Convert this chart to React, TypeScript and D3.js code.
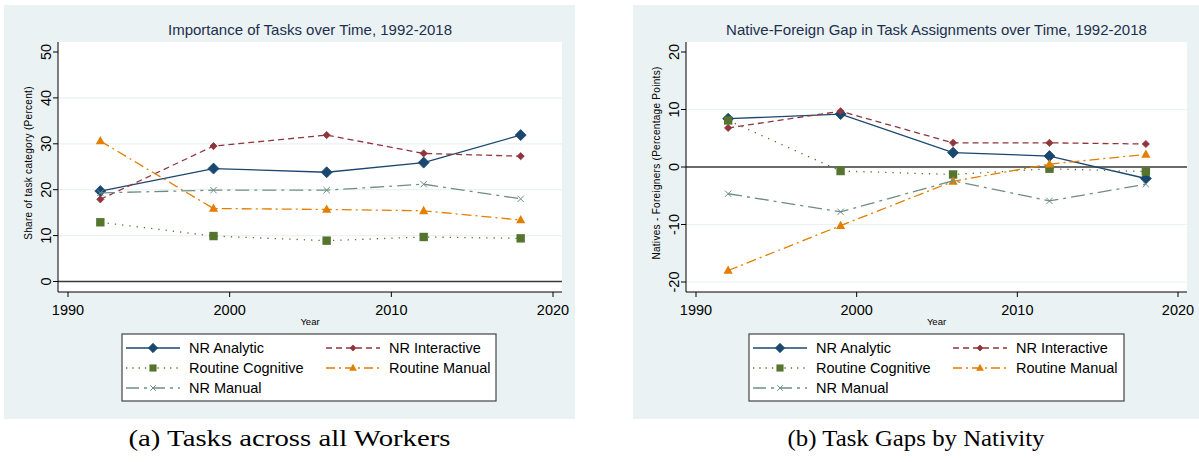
import React from "react";
import * as d3 from "d3";

const years = [1992, 1999, 2006, 2012, 2018];
const seriesNames = ["NR Analytic", "NR Interactive", "Routine Cognitive", "Routine Manual", "NR Manual"];

// Panel (a): share of task category (percent)
const allNRAnalytic = [19.7, 24.6, 23.8, 25.9, 31.9];
const allNRInteractive = [17.9, 29.5, 31.9, 27.9, 27.3];
const allRoutineCognitive = [12.9, 9.9, 8.9, 9.7, 9.4];
const allRoutineManual = [30.6, 15.9, 15.7, 15.4, 13.4];
const allNRManual = [19.3, 19.9, 19.9, 21.2, 18.0];

// Panel (b): natives - foreigners (percentage points)
const gapNRAnalytic = [8.4, 9.2, 2.5, 1.9, -2.0];
const gapNRInteractive = [6.8, 9.7, 4.2, 4.2, 4.0];
const gapRoutineCognitive = [8.1, -0.7, -1.3, -0.3, -0.8];
const gapRoutineManual = [-18.0, -10.2, -2.5, 0.5, 2.2];
const gapNRManual = [-4.65, -7.8, -2.4, -5.9, -3.0];

const xTicks = [1990, 2000, 2010, 2020];
const yTicksA = [0, 10, 20, 30, 40, 50];
const yTicksB = [-20, -10, 0, 10, 20];

type Style = { color: string; dash: string; marker: string; size: number; legendDash: string };
const styles: Style[] = [
  { color: "#1a476f", dash: "none", marker: "diamond", size: 5.5, legendDash: "none" },
  { color: "#90353b", dash: "6,4", marker: "diamond", size: 3.6, legendDash: "6,4" },
  { color: "#55752f", dash: "1.3,6", marker: "square", size: 4.2, legendDash: "1.3,5" },
  { color: "#e37e00", dash: "10,4,2,4", marker: "triangle", size: 4.6, legendDash: "9,4,2,4" },
  { color: "#6e8e84", dash: "14,5,3,5", marker: "x", size: 3.2, legendDash: "13,5,3,5" },
];

const FONT = "'Liberation Sans Narrow', 'Liberation Sans', Arial, sans-serif";
const FONT2 = "'Liberation Sans', Arial, sans-serif";

function Marker({ type, x, y, size, color }: { type: string; x: number; y: number; size: number; color: string }) {
  if (type === "diamond") {
    return <path d={`M${x},${y - size}L${x + size},${y}L${x},${y + size}L${x - size},${y}Z`} fill={color} stroke={color} strokeWidth={0.8} />;
  }
  if (type === "square") {
    return <rect x={x - size} y={y - size} width={size * 2} height={size * 2} fill={color} />;
  }
  if (type === "triangle") {
    const h = size * 1.8;
    return <path d={`M${x},${y - h * 0.6}L${x + size},${y + h * 0.4}L${x - size},${y + h * 0.4}Z`} fill={color} />;
  }
  return (
    <path d={`M${x - size},${y - size}L${x + size},${y + size}M${x - size},${y + size}L${x + size},${y - size}`} stroke={color} strokeWidth={1} fill="none" />
  );
}

type PanelProps = {
  bgX0: number; bgX1: number;
  plotX0: number; plotX1: number;
  xr0: number; xr1: number;
  y0px: number; y1px: number; yd0: number; yd1: number;
  yTicks: number[];
  title: string; yTitle: string;
  data: number[][];
  legX0: number; legX1: number;
  caption: string; captionLen: number;
};

function Panel(p: PanelProps) {
  const top = 42, bottom = 292;
  const x = d3.scaleLinear().domain([1990, 2020]).range([p.xr0, p.xr1]);
  const y = d3.scaleLinear().domain([p.yd0, p.yd1]).range([p.y0px, p.y1px]);
  const cx = (p.plotX0 + p.plotX1) / 2;
  const line = d3.line<[number, number]>().x((d) => x(d[0])).y((d) => y(d[1]));
  const maxTick = d3.max(p.yTicks) as number;
  const legRows = [348, 368, 388];
  const colStarts = [p.legX0 + 4, p.legX0 + 204];
  const capScale = 1.22;
  return (
    <g>
      <rect x={p.bgX0} y={5} width={p.bgX1 - p.bgX0} height={414} fill="#eaf2f3" />
      <rect x={p.plotX0} y={top} width={p.plotX1 - p.plotX0} height={bottom - top} fill="#ffffff" />
      <text x={cx} y={35} textAnchor="middle" fontFamily={FONT} fontSize={15} fill="#1e2f4d">{p.title}</text>
      {p.yTicks.filter((t) => t !== 0 && t !== maxTick).map((t) => (
        <line key={t} x1={p.plotX0} x2={p.plotX1} y1={y(t)} y2={y(t)} stroke="#eaf2f3" strokeWidth={1.2} />
      ))}
      <line x1={p.plotX0} x2={p.plotX1} y1={y(0)} y2={y(0)} stroke="#3a3a3a" strokeWidth={1.4} />
      {/* axes */}
      <line x1={p.plotX0} x2={p.plotX0} y1={top} y2={bottom} stroke="#000" strokeWidth={1} />
      <line x1={p.plotX0} x2={p.plotX1} y1={bottom} y2={bottom} stroke="#000" strokeWidth={1} />
      {p.yTicks.map((t) => (
        <g key={t}>
          <line x1={p.plotX0 - 5} x2={p.plotX0} y1={y(t)} y2={y(t)} stroke="#000" strokeWidth={1} />
          <text transform={`translate(${p.plotX0 - 12},${y(t)}) rotate(-90)`} textAnchor="middle" fontFamily={FONT2} fontSize={14.5} fill="#000" dy="0.35em">{t}</text>
        </g>
      ))}
      {xTicks.map((t) => (
        <g key={t}>
          <line x1={x(t)} x2={x(t)} y1={bottom} y2={bottom + 5} stroke="#000" strokeWidth={1} />
          <text x={x(t)} y={315} textAnchor="middle" fontFamily={FONT2} fontSize={14.5} fill="#000">{t}</text>
        </g>
      ))}
      <text x={cx} y={325} textAnchor="middle" fontFamily={FONT2} fontSize={9.5} fill="#000">Year</text>
      <text transform={`translate(${p.plotX0 - 30},${(top + bottom) / 2 - 4}) rotate(-90)`} textAnchor="middle" fontFamily={FONT2} fontSize={10} letterSpacing={0.3} fill="#000" dy="0.35em">{p.yTitle}</text>
      {/* series */}
      {p.data.map((vals, i) => {
        const s = styles[i];
        const pts = years.map((yr, j) => [yr, vals[j]] as [number, number]);
        return (
          <g key={i}>
            <path d={line(pts) as string} fill="none" stroke={s.color} strokeWidth={1.3} strokeDasharray={s.dash} />
            {pts.map((d, j) => (
              <Marker key={j} type={s.marker} x={x(d[0])} y={y(d[1])} size={s.size} color={s.color} />
            ))}
          </g>
        );
      })}
      {/* legend */}
      <rect x={p.legX0} y={334} width={p.legX1 - p.legX0} height={67} fill="#fff" stroke="#444" strokeWidth={1.2} />
      {seriesNames.map((name, i) => {
        const s = styles[i];
        const col = i % 2;
        const row = Math.floor(i / 2);
        const lx = colStarts[col];
        const ly = legRows[row];
        return (
          <g key={name}>
            <line x1={lx} x2={lx + 54} y1={ly} y2={ly} stroke={s.color} strokeWidth={1.3} strokeDasharray={s.legendDash} />
            <Marker type={s.marker} x={lx + 27} y={ly} size={s.size * 0.85} color={s.color} />
            <text x={lx + 63} y={ly} dy="0.35em" fontFamily={FONT2} fontSize={14.5} fill="#000">{name}</text>
          </g>
        );
      })}
      <text transform={`translate(${(p.bgX0 + p.bgX1) / 2},446) scale(${capScale},1)`} textAnchor="middle" fontFamily="'Liberation Serif', 'DejaVu Serif', serif" fontSize={23} textLength={p.captionLen / capScale} lengthAdjust="spacingAndGlyphs" fill="#000">{p.caption}</text>
    </g>
  );
}

export default function App() {
  return (
    <svg width={1199} height={462} style={{ position: "absolute", left: 0, top: 0, background: "#fff" }}>
      <Panel
        bgX0={4} bgX1={575}
        plotX0={58} plotX1={562}
        xr0={68} xr1={553}
        y0px={281.5} y1px={52} yd0={0} yd1={50}
        yTicks={yTicksA}
        title="Importance of Tasks over Time, 1992-2018"
        yTitle="Share of task category (Percent)"
        data={[allNRAnalytic, allNRInteractive, allRoutineCognitive, allRoutineManual, allNRManual]}
        legX0={122} legX1={496}
        caption="(a) Tasks across all Workers" captionLen={322}
      />
      <Panel
        bgX0={633} bgX1={1199}
        plotX0={686} plotX1={1187}
        xr0={696} xr1={1178}
        y0px={282} y1px={52} yd0={-20} yd1={20}
        yTicks={yTicksB}
        title="Native-Foreign Gap in Task Assignments over Time, 1992-2018"
        yTitle="Natives - Foreigners (Percentage Points)"
        data={[gapNRAnalytic, gapNRInteractive, gapRoutineCognitive, gapRoutineManual, gapNRManual]}
        legX0={749} legX1={1124}
        caption="(b) Task Gaps by Nativity" captionLen={257}
      />
    </svg>
  );
}
